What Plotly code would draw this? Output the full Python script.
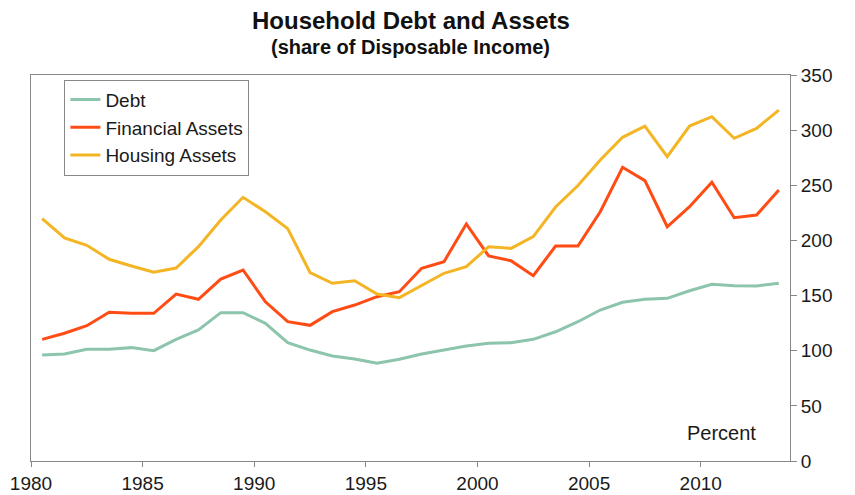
import plotly.graph_objects as go

# Annual observations, 1980-2013, as a share of disposable income (percent)
years = list(range(1980, 2014))

debt = [96.1, 97.0, 101.3, 101.3, 102.8, 100.0, 110.3, 118.8, 134.5, 134.5,
        124.8, 107.3, 100.6, 95.2, 92.5, 88.6, 92.2, 97.0, 100.6, 104.3,
        106.7, 107.3, 110.3, 117.2, 126.3, 136.9, 143.9, 146.6, 147.5, 154.4,
        160.2, 159.0, 158.7, 161.1]

financial_assets = [110.3, 115.8, 122.7, 134.8, 133.9, 133.9, 151.4, 146.6, 165.0, 173.2,
                    144.4, 126.3, 123.0, 135.4, 141.4, 149.0, 153.5, 174.7, 180.7, 214.9,
                    185.9, 181.6, 168.0, 194.9, 194.9, 226.0, 266.3, 254.2, 212.4, 230.6,
                    252.7, 220.6, 223.0, 245.7]

housing_assets = [219.7, 202.2, 195.6, 182.9, 176.8, 171.1, 175.0, 194.3, 218.5, 239.1,
                  226.0, 210.7, 170.9, 161.1, 163.5, 151.4, 148.1, 159.2, 170.2, 176.2,
                  194.3, 192.8, 203.4, 230.3, 249.8, 272.9, 293.5, 303.7, 275.9, 303.7,
                  312.2, 292.6, 301.6, 318.2]

x_ticks = [1980, 1985, 1990, 1995, 2000, 2005, 2010]
y_ticks = [0, 50, 100, 150, 200, 250, 300, 350]

# Each annual value is plotted at the middle of its year
x_mid = [y + 0.5 for y in years]

series = [
    ("Debt", debt, "#8cc4ac"),
    ("Financial Assets", financial_assets, "#ff4b14"),
    ("Housing Assets", housing_assets, "#f4b524"),
]

font_family = "Liberation Sans, Arial, sans-serif"
text_color = "#1a1a1a"

fig = go.Figure()
for name, values, color in series:
    fig.add_trace(go.Scatter(
        x=x_mid, y=values, name=name, mode="lines",
        line=dict(color=color, width=3),
    ))

fig.update_layout(
    width=855, height=495,
    margin=dict(l=31, r=65, t=75, b=34, autoexpand=False),
    paper_bgcolor="white",
    plot_bgcolor="white",
    font=dict(family=font_family, size=19, color=text_color),
    showlegend=True,
    legend=dict(
        x=0.044, y=0.988, xanchor="left", yanchor="top",
        bgcolor="white", bordercolor="#888888", borderwidth=1,
        font=dict(family=font_family, size=19, color=text_color),
        tracegroupgap=0, itemwidth=30,
    ),
    annotations=[
        dict(text="<b>Household Debt and Assets</b>", xref="paper", yref="paper",
             x=0.5, y=1.14, xanchor="center", yanchor="middle", showarrow=False,
             font=dict(family=font_family, size=24, color="#111111")),
        dict(text="<b>(share of Disposable Income)</b>", xref="paper", yref="paper",
             x=0.5, y=1.073, xanchor="center", yanchor="middle", showarrow=False,
             font=dict(family=font_family, size=20, color="#111111")),
        dict(text="Percent", xref="paper", yref="paper",
             x=0.958, y=0.072, xanchor="right", yanchor="middle",
             showarrow=False, font=dict(family=font_family, size=20, color=text_color)),
    ],
)

fig.update_xaxes(
    range=[1980, 2014], automargin=False,
    tickmode="array", tickvals=x_ticks, ticktext=[str(t) for t in x_ticks],
    showgrid=False, zeroline=False,
    showline=True, linecolor="#888888", linewidth=1, mirror=True,
    ticks="outside", ticklen=5, tickcolor="#888888",
    tickfont=dict(size=19, color=text_color),
)
fig.update_yaxes(
    range=[0, 350], side="right", automargin=False,
    tickmode="array", tickvals=y_ticks,
    showgrid=False, zeroline=False,
    showline=True, linecolor="#888888", linewidth=1, mirror=True,
    ticks="outside", ticklen=6, tickcolor="#888888",
    tickfont=dict(size=19, color=text_color),
)

fig.write_html("out.html")
